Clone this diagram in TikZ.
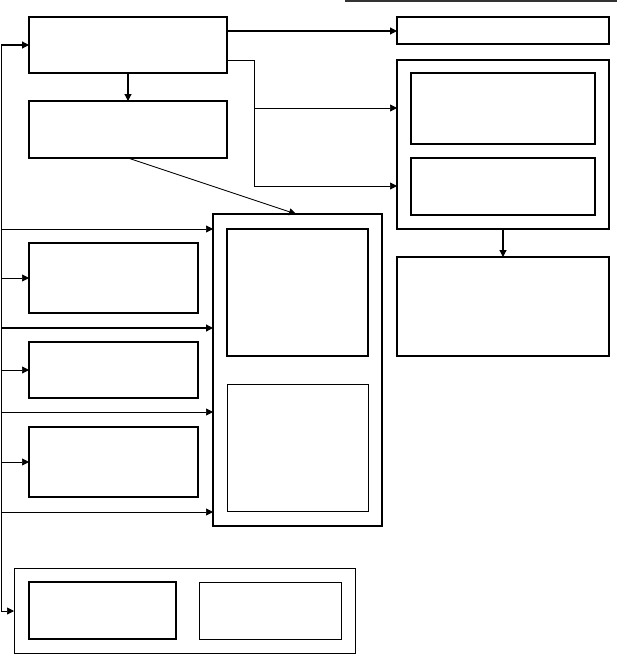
\documentclass[tikz,border=0pt]{standalone}
\usetikzlibrary{arrows.meta}

\tikzset{
  blk/.style={draw, line width=1.1pt, inner sep=0pt, outer sep=0pt, anchor=north west},
  link/.style={line width=0.7pt, -{Triangle[length=7pt,width=7pt]}},
  biglink/.style={line width=1.2pt, -{Triangle[length=7pt,width=7pt]}}
}

\begin{document}
\begin{tikzpicture}[x=1pt,y=-1pt]
\useasboundingbox (0,0) rectangle (618,654);

% rule at the top
\draw[black!80, line width=1.4pt] (345,1) -- (617,1);

% left column
\node[blk, minimum width=198pt, minimum height=56pt] (src) at (29,17) {};
\node[blk, minimum width=198pt, minimum height=57pt] (proc) at (29,101) {};
\node[blk, minimum width=169pt, minimum height=70pt] (inA) at (29,243) {};
\node[blk, minimum width=169pt, minimum height=56pt] (inB) at (29,342) {};
\node[blk, minimum width=169pt, minimum height=70pt] (inC) at (29,427) {};

% right column
\node[blk, minimum width=212pt, minimum height=27pt] (out) at (397,17) {};
\node[blk, minimum width=212pt, minimum height=169pt] (grp) at (397,60) {};
\node[blk, minimum width=184pt, minimum height=71pt] (grpA) at (411,73) {};
\node[blk, minimum width=184pt, minimum height=57pt] (grpB) at (411,158) {};
\node[blk, minimum width=212pt, minimum height=99pt] (res) at (397,257) {};

% middle block
\node[blk, minimum width=169pt, minimum height=312pt] (mid) at (213,214) {};
\node[blk, minimum width=141pt, minimum height=127pt] (midA) at (227,229) {};
\node[blk, minimum width=141pt, minimum height=127pt, line width=0.8pt] (midB) at (227,384) {};

% bottom block
\node[blk, minimum width=341pt, minimum height=85pt, line width=0.9pt] (low) at (14,568) {};
\node[blk, minimum width=147pt, minimum height=57pt] (lowA) at (29,582) {};
\node[blk, minimum width=142pt, minimum height=57pt, line width=0.8pt] (lowB) at (199,582) {};

% connectors
\coordinate (bus) at (1,611);
\coordinate (bustop) at (1,45);
\coordinate (fork) at (254,60);
\draw[line width=0.8pt] (bus) -- (bustop);
\draw[biglink] (bustop) -- (src.west |- bustop);
\draw[link] (bus) -- (low.west |- bus);
\draw[biglink] (src.south) -- (proc.north);
\draw[biglink] (src.east |- 0,31) -- (out.west |- 0,31);
\draw[line width=0.9pt] (src.east |- fork) -- (fork) -- (fork |- 0,186);
\draw[link] (fork |- 0,108) -- (grp.west |- 0,108);
\draw[link] (fork |- 0,186) -- (grp.west |- 0,186);
\draw[biglink] (grp.south -| 503,0) -- (res.north -| 503,0);
\draw[link, line width=0.9pt] (proc.south) -- (mid.north -| 296,0);
\foreach \y in {229,412,512}
  \draw[link] (bus |- 0,\y) -- (mid.west |- 0,\y);
\draw[biglink] (bus |- 0,328) -- (mid.west |- 0,328);
\foreach \n in {inA,inB,inC}
  \draw[link] (bus |- \n.west) -- (\n.west);
\end{tikzpicture}
\end{document}
